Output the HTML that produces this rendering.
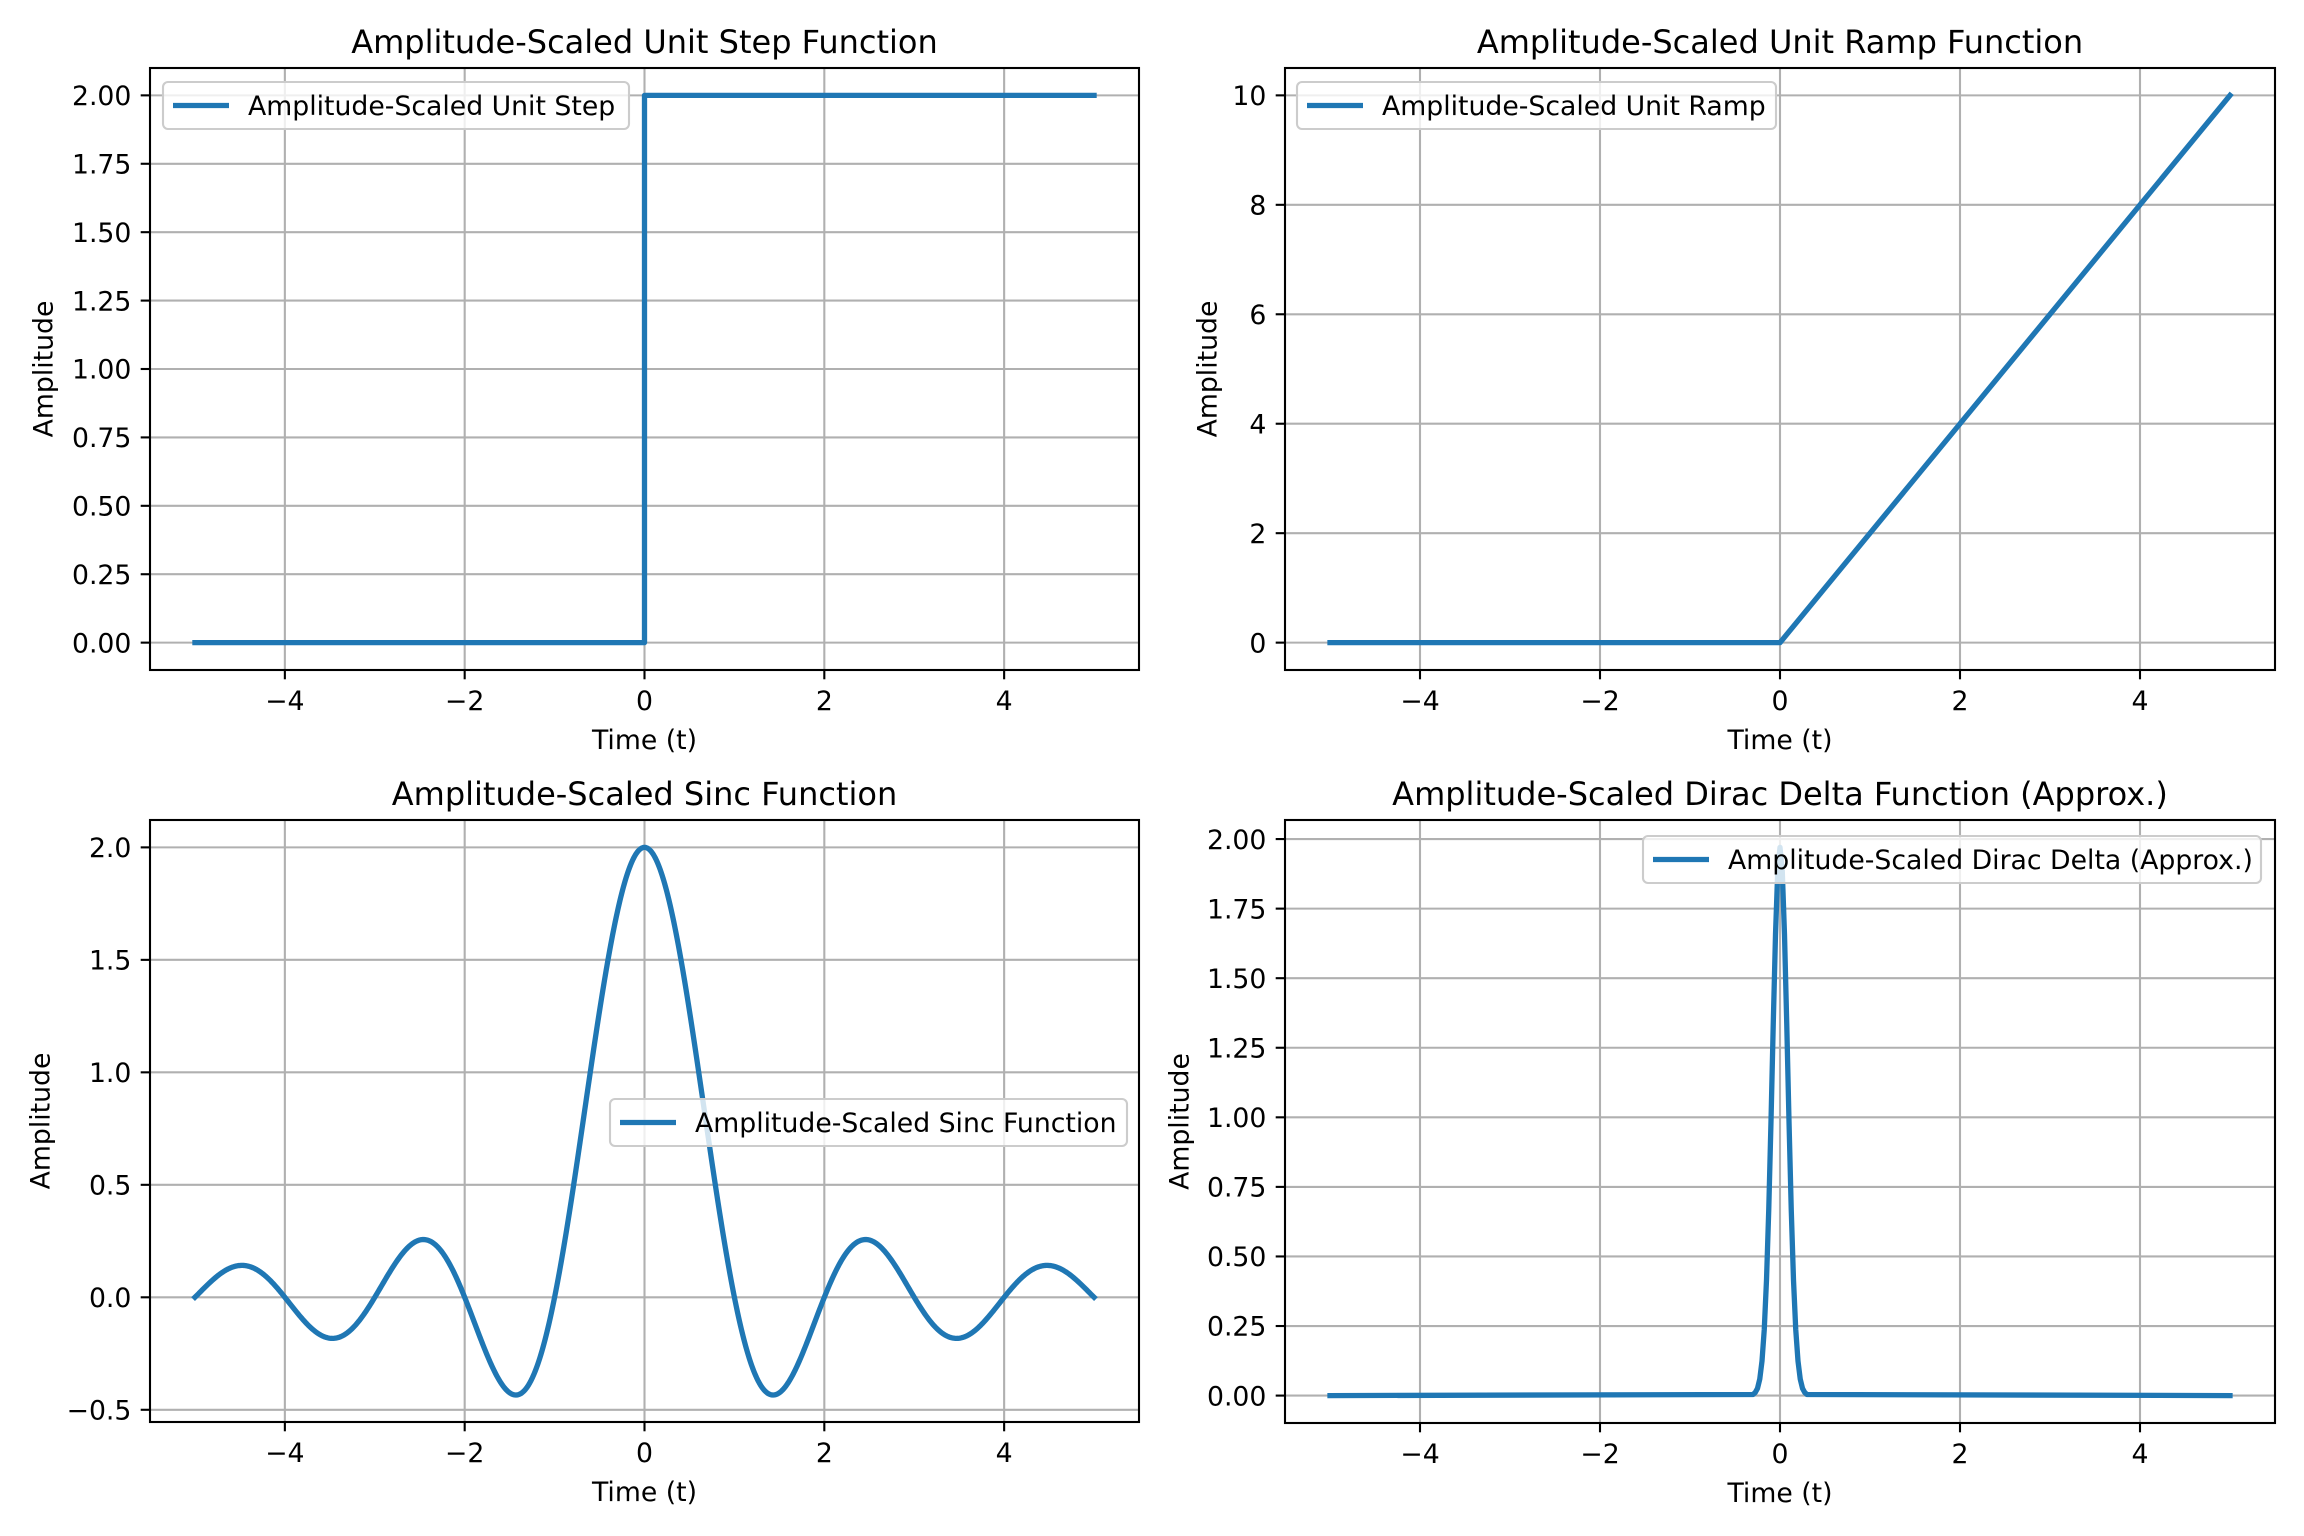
<!DOCTYPE html>
<html><head><meta charset="utf-8">
<style>
html,body{margin:0;padding:0;background:#fff;}
svg{display:block;}
text{font-family:"DejaVu Sans","Liberation Sans",sans-serif;fill:#000;}
</style></head>
<body>
<svg id="fig" width="2304" height="1536" viewBox="0 0 2304 1536" xmlns="http://www.w3.org/2000/svg"></svg>
<script>
// ---- data ----
const stepTimes = [-5, 0, 0, 5];
const stepValues = [0, 0, 2, 2];
const rampTimes = [-5, 0, 5];
const rampValues = [0, 0, 10];
const sincAmplitude = [2];
const deltaTimes = [-5, -0.3, -0.275, -0.25, -0.225, -0.2, -0.175, -0.15, -0.125, -0.1, -0.075, -0.05, -0.025, 0, 0.025, 0.05, 0.075, 0.1, 0.125, 0.15, 0.175, 0.2, 0.225, 0.25, 0.275, 0.3, 5];
const deltaValues = [0, 0.004, 0.011, 0.026, 0.059, 0.124, 0.237, 0.415, 0.668, 0.986, 1.335, 1.657, 1.887, 1.97, 1.887, 1.657, 1.335, 0.986, 0.668, 0.415, 0.237, 0.124, 0.059, 0.026, 0.011, 0.004, 0];
const xTicks = [-4, -2, 0, 2, 4];
const stepYTicks = ["0.00","0.25","0.50","0.75","1.00","1.25","1.50","1.75","2.00"];
const rampYTicks = ["0","2","4","6","8","10"];
const sincYTicks = ["−0.5","0.0","0.5","1.0","1.5","2.0"];
const sincYTickVals = [-0.5, 0, 0.5, 1, 1.5, 2];
const deltaYTicks = ["0.00","0.25","0.50","0.75","1.00","1.25","1.50","1.75","2.00"];

const NS = "http://www.w3.org/2000/svg";
const fig = document.getElementById('fig');
const BLUE = "#1f77b4";
function mk(tag, attrs, parent) {
  const e = document.createElementNS(NS, tag);
  for (const k in attrs) e.setAttribute(k, attrs[k]);
  (parent || fig).appendChild(e);
  return e;
}
function sincSeries() {
  const ts = [], ys = [];
  const A = sincAmplitude[0];
  for (let i = 0; i < 1000; i++) {
    const t = -5 + 10 * i / 999;
    ts.push(t);
    ys.push(Math.abs(t) < 1e-9 ? A : A * Math.sin(Math.PI * t) / (Math.PI * t));
  }
  return [ts, ys];
}
const sinc = sincSeries();

const panels = [
  {name:'step', L:150, R:1139, T:68, B:670, xmin:-5.5, xmax:5.5, ymin:-0.1, ymax:2.1,
   yTickLabels:stepYTicks, yTickVals:stepYTicks.map(Number), xs:stepTimes, ys:stepValues,
   title:'Amplitude-Scaled Unit Step Function', titleY:42, ylabelX:44,
   legend:{x:163,y:82,w:466,h:47,label:'Amplitude-Scaled Unit Step'}},
  {name:'ramp', L:1285, R:2275, T:68, B:670, xmin:-5.5, xmax:5.5, ymin:-0.5, ymax:10.5,
   yTickLabels:rampYTicks, yTickVals:rampYTicks.map(Number), xs:rampTimes, ys:rampValues,
   title:'Amplitude-Scaled Unit Ramp Function', titleY:42, ylabelX:1208,
   legend:{x:1297,y:82,w:479,h:47,label:'Amplitude-Scaled Unit Ramp'}},
  {name:'sinc', L:150, R:1139, T:820, B:1422, xmin:-5.5, xmax:5.5, ymin:-0.5543, ymax:2.1217,
   yTickLabels:sincYTicks, yTickVals:sincYTickVals, xs:sinc[0], ys:sinc[1],
   title:'Amplitude-Scaled Sinc Function', titleY:794, ylabelX:41,
   legend:{x:610,y:1099,w:517,h:47,label:'Amplitude-Scaled Sinc Function'}},
  {name:'dirac-delta', L:1285, R:2275, T:820, B:1423, xmin:-5.5, xmax:5.5, ymin:-0.0985, ymax:2.0685,
   yTickLabels:deltaYTicks, yTickVals:deltaYTicks.map(Number), xs:deltaTimes, ys:deltaValues,
   title:'Amplitude-Scaled Dirac Delta Function (Approx.)', titleY:794, ylabelX:1180,
   legend:{x:1643,y:836,w:618,h:47,label:'Amplitude-Scaled Dirac Delta (Approx.)'}}
];

panels.forEach(p => {
  const g = mk('g', {});
  
  
  const sx = v => p.L + (v - p.xmin) / (p.xmax - p.xmin) * (p.R - p.L);
  const sy = v => p.B - (v - p.ymin) / (p.ymax - p.ymin) * (p.B - p.T);
  // grid
  xTicks.forEach(v => {
    const l = mk('line', {x1:sx(v), x2:sx(v), y1:p.T, y2:p.B, stroke:'#b0b0b0', 'stroke-width':2.1}, g);
    
    
  });
  p.yTickVals.forEach(v => {
    const l = mk('line', {x1:p.L, x2:p.R, y1:sy(v), y2:sy(v), stroke:'#b0b0b0', 'stroke-width':2.1}, g);
    
    
  });
  // series
  const d = p.xs.map((x, i) => (i ? 'L' : 'M') + sx(x).toFixed(2) + ',' + sy(p.ys[i]).toFixed(2)).join('');
  const path = mk('path', {d:d, fill:'none', stroke:BLUE, 'stroke-width':5.3, 'stroke-linejoin':'round', 'stroke-linecap':'square'}, g);
  
  
  // spines
  const frame = mk('rect', {x:p.L, y:p.T, width:p.R - p.L, height:p.B - p.T, fill:'none', stroke:'#000', 'stroke-width':2.1}, g);
  
  
  // x ticks
  xTicks.forEach(v => {
    mk('line', {x1:sx(v), x2:sx(v), y1:p.B, y2:p.B + 9.3, stroke:'#000', 'stroke-width':2.1}, g);
    const t = mk('text', {x:sx(v), y:p.B + 40, 'font-size':26.7, 'text-anchor':'middle'}, g);
    t.textContent = v < 0 ? '−' + Math.abs(v) : String(v);
    
    
  });
  // y ticks
  p.yTickVals.forEach((v, i) => {
    mk('line', {x1:p.L - 9.3, x2:p.L, y1:sy(v), y2:sy(v), stroke:'#000', 'stroke-width':2.1}, g);
    const t = mk('text', {x:p.L - 18.6, y:sy(v) + 9.7, 'font-size':26.7, 'text-anchor':'end'}, g);
    t.textContent = p.yTickLabels[i];
    
    
  });
  // labels
  const xl = mk('text', {x:(p.L + p.R) / 2, y:p.B + 79, 'font-size':26.7, 'text-anchor':'middle'}, g);
  xl.textContent = 'Time (t)';
  
  
  const ycy = (p.T + p.B) / 2;
  const yl = mk('text', {x:p.ylabelX, y:ycy, 'font-size':26.7, 'text-anchor':'middle', 'dominant-baseline':'central', transform:'rotate(-90 ' + p.ylabelX + ' ' + ycy + ')'}, g);
  yl.textContent = 'Amplitude';
  
  
  const ti = mk('text', {x:(p.L + p.R) / 2, y:p.titleY + 11, 'font-size':32, 'text-anchor':'middle'}, g);
  ti.textContent = p.title;
  
  
  // legend
  const lg = mk('g', {}, g);
  
  
  const L = p.legend;
  mk('rect', {x:L.x, y:L.y, width:L.w, height:L.h, rx:5, fill:'#fff', 'fill-opacity':0.8, stroke:'#cccccc', 'stroke-width':2.1}, lg);
  const cy = L.y + L.h / 2;
  mk('line', {x1:L.x + 10, x2:L.x + 66, y1:cy, y2:cy, stroke:BLUE, 'stroke-width':5.3}, lg);
  const lt = mk('text', {x:L.x + 85, y:cy + 9.5, 'font-size':26.7}, lg);
  lt.textContent = L.label;
  
  
});
</script>
</body></html>
